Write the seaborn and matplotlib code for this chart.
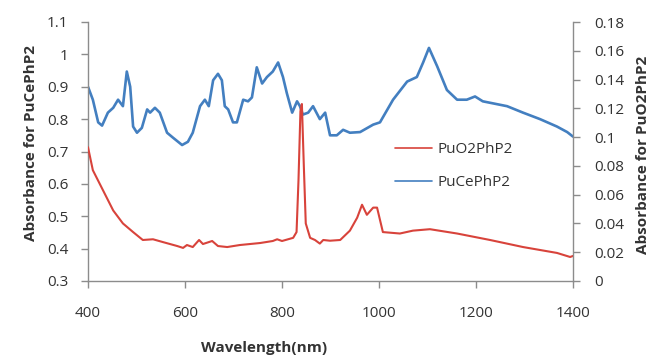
import matplotlib
matplotlib.use("Agg")
import matplotlib.pyplot as plt
import seaborn as sns
import pandas as pd

# ---- data ----
blue_wl = [400, 410, 421, 429, 441, 452, 462, 472, 480, 487, 493, 501, 511, 522, 528, 538, 548,
           563, 575, 594, 606, 616, 631, 641, 649, 658, 668, 676, 682, 689, 699, 707, 720, 730,
           738, 748, 759, 769, 781, 792, 802, 810, 821, 831, 837, 843, 854, 864, 878, 889, 899,
           913, 926, 940, 961, 988, 1002, 1029, 1058, 1078, 1091, 1103, 1120, 1140, 1161, 1181,
           1198, 1214, 1264, 1297, 1332, 1367, 1388, 1400]
blue_abs = [0.90, 0.86, 0.79, 0.78, 0.82, 0.835, 0.86, 0.84, 0.947, 0.90, 0.777, 0.758, 0.773,
            0.83, 0.82, 0.835, 0.82, 0.758, 0.743, 0.72, 0.73, 0.758, 0.84, 0.86, 0.84, 0.92,
            0.94, 0.92, 0.84, 0.83, 0.79, 0.79, 0.86, 0.855, 0.867, 0.96, 0.91, 0.93, 0.947,
            0.975, 0.93, 0.88, 0.82, 0.855, 0.84, 0.814, 0.82, 0.84, 0.80, 0.82, 0.75, 0.75,
            0.767, 0.758, 0.76, 0.783, 0.79, 0.86, 0.916, 0.93, 0.975, 1.02, 0.963, 0.89, 0.86,
            0.86, 0.87, 0.855, 0.84, 0.82, 0.80, 0.777, 0.76, 0.746]

red_wl = [400, 410, 431, 452, 472, 493, 513, 534, 555, 584, 596, 604, 616, 629, 637, 656, 668,
          687, 713, 755, 781, 790, 800, 823, 830, 834, 838, 841, 845, 849, 858, 868, 878, 885,
          899, 920, 940, 955, 965, 975, 988, 996, 1008, 1043, 1070, 1105, 1161, 1229, 1297,
          1367, 1394, 1400]
red_abs = [0.093, 0.077, 0.063, 0.049, 0.040, 0.034, 0.0285, 0.029, 0.027, 0.0243, 0.023,
           0.025, 0.0236, 0.0285, 0.0257, 0.0278, 0.0243, 0.0236, 0.025, 0.0264, 0.0278, 0.029,
           0.0278, 0.030, 0.034, 0.07, 0.118, 0.123, 0.08, 0.040, 0.030, 0.0285, 0.026, 0.0285,
           0.028, 0.0285, 0.035, 0.044, 0.053, 0.046, 0.051, 0.051, 0.034, 0.033, 0.035, 0.036,
           0.033, 0.0285, 0.0236, 0.0195, 0.0167, 0.0174]

x_ticks = [400, 600, 800, 1000, 1200, 1400]
left_ticks = [0.3, 0.4, 0.5, 0.6, 0.7, 0.8, 0.9, 1.0, 1.1]
left_labels = ["0.3", "0.4", "0.5", "0.6", "0.7", "0.8", "0.9", "1", "1.1"]
right_ticks = [0, 0.02, 0.04, 0.06, 0.08, 0.10, 0.12, 0.14, 0.16, 0.18]
right_labels = ["0", "0.02", "0.04", "0.06", "0.08", "0.1", "0.12", "0.14", "0.16", "0.18"]

blue_name = "PuCePhP2"
red_name = "PuO2PhP2"

sns.set_style("white")
plt.rcParams["font.family"] = ["Open Sans", "DejaVu Sans"]

BLUE = "#437fc0"
RED = "#d8433b"
GREY = "#8c8c8c"
TXT = "#333333"
FS = 11

fig = plt.figure(figsize=(6.55, 3.59), dpi=100)
ax = fig.add_axes([88/655, 1-281/359, (573-88)/655, (281-22)/359])
ax2 = ax.twinx()

dfb = pd.DataFrame({"wl": blue_wl, "a": blue_abs})
dfr = pd.DataFrame({"wl": red_wl, "a": red_abs})
sns.lineplot(data=dfb, x="wl", y="a", ax=ax, color=BLUE, lw=1.9, label=blue_name, legend=False)
sns.lineplot(data=dfr, x="wl", y="a", ax=ax2, color=RED, lw=1.5, label=red_name, legend=False)

ax.set_xlim(400, 1400)
ax.set_ylim(0.3, 1.1)
ax2.set_ylim(0, 0.18)
ax.set_xticks(x_ticks)
ax.set_xticklabels([str(t) for t in x_ticks])
ax.set_yticks(left_ticks)
ax.set_yticklabels(left_labels)
ax2.set_yticks(right_ticks)
ax2.set_yticklabels(right_labels)

for a in (ax, ax2):
    a.spines["top"].set_visible(False)
    for s in ("left", "right", "bottom"):
        a.spines[s].set_color(GREY)
        a.spines[s].set_linewidth(1.0)
    a.tick_params(axis="both", which="major", length=5, width=1.0, color=GREY,
                  labelsize=FS, labelcolor=TXT, direction="out")
    a.grid(False)
ax.tick_params(axis="y", pad=9, left=True)
ax.tick_params(axis="x", pad=13, bottom=True)
ax2.tick_params(axis="y", pad=10, right=True)
ax.spines["right"].set_visible(False)
ax2.spines["left"].set_visible(False)
ax2.spines["bottom"].set_visible(False)

ax.set_xlabel("Wavelength(nm)", fontsize=FS, fontweight="bold", color=TXT)
ax.set_ylabel("Absorbance for PuCePhP2", fontsize=FS, fontweight="bold", color=TXT)
ax2.set_ylabel("Absorbance for PuO2PhP2", fontsize=FS, fontweight="bold", color=TXT)
ax.xaxis.set_label_coords((264-88)/485, (281-341)/259)
ax.yaxis.set_label_coords((38-88)/485, (281-143)/259)
ax2.yaxis.set_label_coords((636-88)/485, (281-155)/259)

h1, l1 = ax2.get_legend_handles_labels()
h2, l2 = ax.get_legend_handles_labels()
leg = ax2.legend(h1 + h2, l1 + l2, loc="upper left", frameon=False, fontsize=FS,
                 bbox_to_anchor=(395/655, 1-142/359), bbox_transform=fig.transFigure,
                 borderpad=0, borderaxespad=0, handlelength=2.45, handletextpad=0.3,
                 labelspacing=1.2)
for line in leg.get_lines():
    line.set_linewidth(1.2)
for t in leg.get_texts():
    t.set_color(TXT)

fig.savefig("out.png", dpi=100)
